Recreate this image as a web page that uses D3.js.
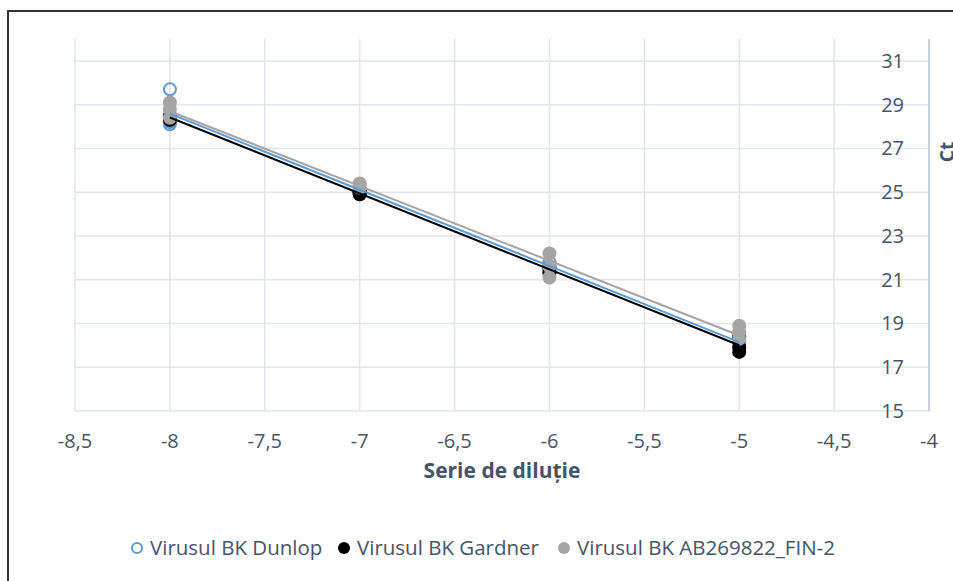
<!DOCTYPE html>
<html>
<head>
<meta charset="utf-8">
<script src="https://cdn.jsdelivr.net/npm/d3@7"></script>
<style>
  body { margin: 0; background: #fff; }
  text { font-family: "Open Sans", Lato, sans-serif; }
</style>
</head>
<body>
<div id="chart"></div>
<script>
// Define SVG area dimensions
var svgWidth = 953;
var svgHeight = 581;
var plot = { l: 75, r: 929, t: 39, b: 411 };

// Dilution series values (x) and Ct readings (y)
var dunlopX = [-8, -8, -8, -7, -7, -7, -6, -6, -6, -5, -5, -5];
var dunlopY = [29.7, 28.2, 28.1, 25.0, 24.9, 25.1, 21.6, 21.4, 21.8, 18.3, 18.1, 18.2];

var gardnerX = [-8, -8, -8, -7, -7, -7, -6, -6, -6, -5, -5, -5];
var gardnerY = [28.4, 28.3, 28.5, 25.0, 24.9, 25.0, 21.5, 21.3, 21.6, 18.4, 17.9, 17.7];

var finX = [-8, -8, -8, -7, -7, -7, -6, -6, -6, -5, -5, -5];
var finY = [29.1, 28.8, 28.4, 25.4, 25.3, 25.2, 22.2, 21.6, 21.1, 18.9, 18.6, 18.3];

var seriesNames = ["Virusul BK Dunlop", "Virusul BK Gardner", "Virusul BK AB269822_FIN-2"];
var seriesColors = ["#5B9BD5", "#000000", "#A5A5A5"];

var xTicks = [-8.5, -8, -7.5, -7, -6.5, -6, -5.5, -5, -4.5, -4];
var yTicks = [15, 17, 19, 21, 23, 25, 27, 29, 31];

var series = [
    { name: seriesNames[0], color: seriesColors[0], xs: dunlopX, ys: dunlopY, open: true },
    { name: seriesNames[1], color: seriesColors[1], xs: gardnerX, ys: gardnerY, open: false },
    { name: seriesNames[2], color: seriesColors[2], xs: finX, ys: finY, open: false }
];

var svg = d3.select("#chart")
    .append("svg")
    .attr("width", svgWidth)
    .attr("height", svgHeight);

// Chart border (cut off on the right and bottom like the original)
svg.append("rect")
    .attr("x", 8).attr("y", 11)
    .attr("width", svgWidth + 10).attr("height", svgHeight + 10)
    .attr("fill", "#fff")
    .attr("stroke", "#333")
    .attr("stroke-width", 2);

// Scales
var xScale = d3.scaleLinear().domain([-8.5, -4]).range([plot.l, plot.r]);
var yScale = d3.scaleLinear().domain([15, 32]).range([plot.b, plot.t]);

// Gridlines
svg.append("g")
    .selectAll("line")
    .data(xTicks)
    .enter()
    .append("line")
    .attr("x1", d => xScale(d)).attr("x2", d => xScale(d))
    .attr("y1", plot.t).attr("y2", plot.b)
    .attr("stroke", "#E1E5EC")
    .attr("stroke-width", 1.5);

svg.append("g")
    .selectAll("line")
    .data(yTicks)
    .enter()
    .append("line")
    .attr("x1", plot.l).attr("x2", plot.r)
    .attr("y1", d => yScale(d)).attr("y2", d => yScale(d))
    .attr("stroke", "#E1E5EC")
    .attr("stroke-width", 1.5);

// Vertical axis sits at x = -4 (right side)
svg.append("line")
    .attr("x1", xScale(-4)).attr("x2", xScale(-4))
    .attr("y1", plot.t).attr("y2", plot.b)
    .attr("stroke", "#BFC6D4")
    .attr("stroke-width", 1.5);

// Y tick labels
svg.append("g")
    .selectAll("text")
    .data(yTicks)
    .enter()
    .append("text")
    .attr("x", 904)
    .attr("y", d => yScale(d))
    .attr("dy", "0.35em")
    .attr("text-anchor", "end")
    .attr("fill", "#44546A")
    .style("font-size", "20px")
    .text(d => d);

// X tick labels (comma decimal)
svg.append("g")
    .selectAll("text")
    .data(xTicks)
    .enter()
    .append("text")
    .attr("x", d => xScale(d))
    .attr("y", 441)
    .attr("dy", "0.35em")
    .attr("text-anchor", "middle")
    .attr("fill", "#44546A")
    .style("font-size", "20px")
    .text(d => String(d).replace(".", ","));

// Axis titles
svg.append("text")
    .attr("x", (plot.l + plot.r) / 2)
    .attr("y", 471)
    .attr("dy", "0.35em")
    .attr("text-anchor", "middle")
    .attr("fill", "#44546A")
    .style("font-size", "21px")
    .style("font-weight", "bold")
    .text("Serie de diluție");

svg.append("text")
    .attr("transform", "translate(947 152) rotate(-90)")
    .attr("dy", "0.35em")
    .attr("text-anchor", "middle")
    .attr("fill", "#44546A")
    .style("font-size", "19px")
    .style("font-weight", "bold")
    .text("Ct");

// Markers
series.forEach(function (s) {
    svg.append("g")
        .selectAll("circle")
        .data(s.xs)
        .enter()
        .append("circle")
        .attr("cx", d => xScale(d))
        .attr("cy", (d, i) => yScale(s.ys[i]))
        .attr("r", s.open ? 6 : 7)
        .attr("fill", s.open ? "none" : s.color)
        .attr("stroke", s.color)
        .attr("stroke-width", s.open ? 2 : 0);
});

// Linear trendlines, least squares over each series
function trend(xs, ys) {
    var mx = d3.mean(xs), my = d3.mean(ys);
    var num = d3.sum(xs, (x, i) => (x - mx) * (ys[i] - my));
    var den = d3.sum(xs, x => (x - mx) * (x - mx));
    var b = num / den;
    var a = my - b * mx;
    var ext = d3.extent(xs);
    return ext.map(x => [x, a + b * x]);
}

var line = d3.line()
    .x(d => xScale(d[0]))
    .y(d => yScale(d[1]));

series.forEach(function (s) {
    svg.append("path")
        .datum(trend(s.xs, s.ys))
        .attr("d", line)
        .attr("fill", "none")
        .attr("stroke", s.color)
        .attr("stroke-width", 2);
});

// Legend
var legendX = [137, 344, 564];
var legend = svg.append("g");
series.forEach(function (s, i) {
    legend.append("circle")
        .attr("cx", legendX[i])
        .attr("cy", 548)
        .attr("r", s.open ? 5 : 6)
        .attr("fill", s.open ? "none" : s.color)
        .attr("stroke", s.color)
        .attr("stroke-width", s.open ? 2 : 0);
    legend.append("text")
        .attr("x", legendX[i] + 13)
        .attr("y", 548)
        .attr("dy", "0.35em")
        .attr("fill", "#44546A")
        .style("font-size", "20.5px")
        .text(s.name);
});
</script>
</body>
</html>
